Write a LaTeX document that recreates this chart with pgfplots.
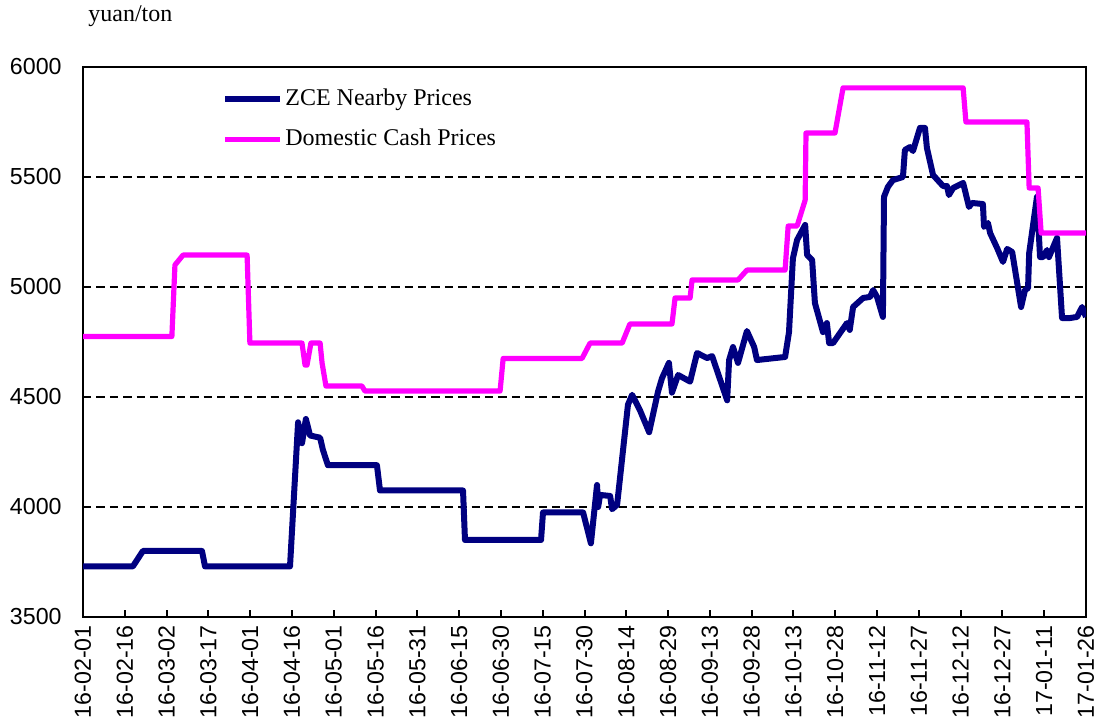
\documentclass[border=0pt]{standalone}
\usepackage{fontspec}
\setmainfont{Liberation Serif}
\setsansfont{Liberation Sans}
\usepackage{pgfplots}
\pgfplotsset{compat=1.18}
\usetikzlibrary{calc}
\definecolor{zce}{RGB}{0,0,128}
\definecolor{cash}{RGB}{255,0,255}

\begin{document}
\begin{tikzpicture}
\begin{axis}[
    name=ax,
    scale only axis,
    width=501.5pt, height=275pt,
    xmin=0, xmax=360,
    ymin=3500, ymax=6000,
    xtick={0,15,...,360},
    xticklabels={16-02-01,16-02-16,16-03-02,16-03-17,16-04-01,16-04-16,16-05-01,16-05-16,16-05-31,16-06-15,16-06-30,16-07-15,16-07-30,16-08-14,16-08-29,16-09-13,16-09-28,16-10-13,16-10-28,16-11-12,16-11-27,16-12-12,16-12-27,17-01-11,17-01-26},
    ytick={3500,4000,4500,5000,5500,6000},
    xtick pos=bottom,
    tick align=inside,
    major tick length=3.5pt,
    xtick style={black, line width=1pt},
    ytick style={draw=none},
    axis line style={black, line width=1pt},
    ymajorgrids,
    major grid style={black, line width=1pt, dash pattern=on 4.2pt off 2.5pt},
    /pgf/number format/assume math mode=true,
    /pgf/number format/1000 sep={},
    ticklabel style={font=\sffamily\fontsize{11.6}{13}\selectfont},
    x tick label style={rotate=90, anchor=east, inner sep=4pt},
    y tick label style={anchor=east, inner sep=10.5pt},
    legend style={draw=none, fill=none, inner sep=0pt,
        at={(axis description cs:0.1386,0.962)}, anchor=north west,
        font=\fontsize{12}{14}\selectfont,
        nodes={inner sep=0pt, text height=8.5pt, text depth=2.5pt},
        row sep=9pt, column sep=1pt},
    legend cell align=left,
    legend image code/.code={\draw[#1] (0pt,0pt) -- (27.5pt,0pt);},
]
\addplot[zce, line width=3pt, line join=round] coordinates {
(0,3730) (17.9,3730) (21.5,3800) (42.7,3800) (43.8,3730) (74.3,3730)
(77.2,4385) (78.6,4290) (80.0,4400) (81.5,4325) (85.1,4315) (86.1,4260)
(87.9,4190) (105.5,4190) (106.6,4075) (136.4,4075) (137.1,3850) (164.4,3850)
(165.1,3975) (179.5,3975) (182.3,3835) (184.5,4100) (184.9,4000) (185.6,4055)
(189.2,4050) (189.9,3990) (191.7,4010) (195.6,4465) (197.1,4510) (199.9,4440)
(203.2,4340) (206.4,4525) (207.8,4585) (210.3,4655) (211.4,4520) (213.6,4600)
(217.9,4570) (220.4,4700) (224.0,4677) (225.8,4686) (231.2,4485) (231.9,4668)
(233.3,4727) (235.1,4655) (238.3,4800) (240.9,4727) (241.9,4668) (252.0,4682)
(253.4,4795) (254.8,5130) (256.3,5214) (259.2,5282) (259.9,5145) (261.7,5123)
(262.7,4927) (265.6,4795) (267.0,4836) (267.8,4745) (269.2,4745) (274.2,4836)
(275.2,4805) (276.4,4909) (280.0,4950) (282.5,4955) (283.6,4986) (285.0,4955)
(287.1,4864) (287.5,5410) (288.9,5455) (290.7,5486) (294.3,5500) (295.0,5623)
(296.8,5636) (297.9,5618) (300.4,5723) (302.2,5723) (302.9,5632) (305.1,5509)
(308.7,5459) (310.1,5459) (310.8,5418) (312.3,5450) (315.9,5473) (318.0,5364)
(319.1,5382) (323.0,5377) (323.4,5273) (324.8,5291) (325.6,5245) (328.1,5177)
(330.2,5114) (331.7,5173) (333.5,5159) (336.7,4909) (338.1,4986) (339.2,4995)
(339.6,5154) (342.4,5410) (343.5,5136) (344.6,5136) (346.0,5168) (346.7,5136)
(349.6,5223) (351.4,4859) (354.3,4859) (356.8,4864) (358.6,4909) (360,4864)
};
\addlegendentry{ZCE Nearby Prices}
\addplot[cash, line width=2.6pt, line join=round] coordinates {
(0,4775) (31.9,4775) (33.0,5100) (35.9,5145) (58.9,5145) (59.9,4745)
(78.6,4745) (79.7,4645) (80.4,4645) (81.8,4745) (85.1,4745) (85.8,4655)
(87.2,4550) (100.1,4550) (101.2,4527) (149.7,4527) (150.8,4675) (179.1,4675)
(182.0,4745) (193.5,4745) (196.3,4832) (211.4,4832) (212.5,4950) (217.9,4950)
(218.6,5032) (235.1,5032) (238.3,5077) (252.0,5077) (253.1,5277) (256.3,5277)
(259.2,5395) (259.5,5700) (269.9,5700) (272.8,5905) (315.9,5905) (316.9,5750)
(338.8,5750) (339.6,5450) (342.8,5450) (343.9,5245) (360,5245)
};
\addlegendentry{Domestic Cash Prices}
\end{axis}
\node[anchor=base west, inner sep=0pt, font=\fontsize{12}{14}\selectfont]
    at ($(ax.north west)+(2.5pt,22.5pt)$) {yuan/ton};
\pgfresetboundingbox
\path[use as bounding box] ($(ax.south west)+(-41.5pt,-52.5pt)$) rectangle ($(ax.north east)+(8.5pt,33.5pt)$);
\end{tikzpicture}
\end{document}
